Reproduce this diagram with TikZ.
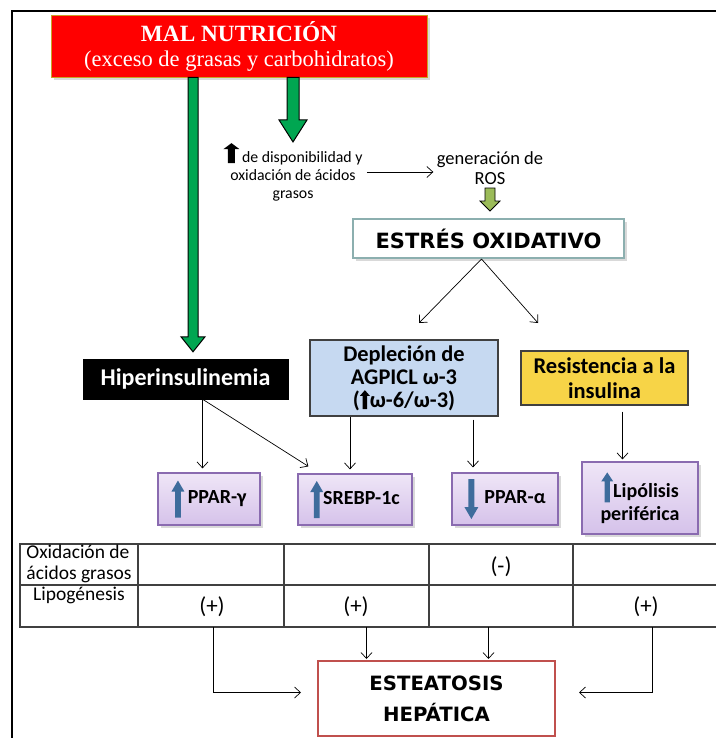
\documentclass[tikz,border=0pt]{standalone}
\usepackage{fontspec}
\setmainfont{Carlito}
\newfontfamily\titlefont{Liberation Serif}
\newfontfamily\capsfont{DejaVu Sans}
\usepackage{tikz}
\usetikzlibrary{calc,positioning,arrows.meta,shadows}

\definecolor{malred}{HTML}{FF0000}
\definecolor{malline}{HTML}{C9A227}
\definecolor{arrowgreen}{HTML}{00A651}
\definecolor{olivearrow}{HTML}{9BBB59}
\definecolor{estline}{HTML}{8CAFAF}
\definecolor{deplfill}{HTML}{C6D9F1}
\definecolor{resfill}{HTML}{F7D447}
\definecolor{boxline}{HTML}{404040}
\definecolor{lilactop}{HTML}{EFE6F7}
\definecolor{lilacbot}{HTML}{D5C2EA}
\definecolor{lilacline}{HTML}{8A6BB0}
\definecolor{arrowblue}{HTML}{3E6C9C}
\definecolor{hepline}{HTML}{C0504D}

\tikzset{
  line/.style={-{Straight Barb[length=6pt,width=11pt]}, line width=0.7pt},
  box/.style={draw, align=center, inner sep=3pt},
  shadowbox/.style={box, drop shadow={shadow xshift=3pt, shadow yshift=-3pt, opacity=0.3}},
  lilacbox/.style={shadowbox, draw=lilacline, line width=1.2pt, top color=lilactop, bottom color=lilacbot, font=\bfseries\fontsize{20}{23}\selectfont},
  bigarrow/.style={draw=black, line width=1pt},
  tablerule/.style={draw=boxline, line width=1.4pt},
  celltext/.style={font=\fontsize{19.5}{21}\selectfont, align=center, inner sep=0pt},
  signtext/.style={font=\fontsize{23}{25}\selectfont, inner sep=0pt}
}

% block arrows drawn between two points (x taken from the first one)
\newcommand{\blockarrow}[6]{%
  \filldraw[#1] let \p1=(#2), \p2=(#3) in
    (\x1-#4,\y1) -- (\x1-#4,\y2+#6) -- (\x1-#5,\y2+#6) -- (\x1,\y2)
    -- (\x1+#5,\y2+#6) -- (\x1+#4,\y2+#6) -- (\x1+#4,\y1) -- cycle;}
\newcommand{\blkup}[4]{\tikz[baseline=#4pt,x=1pt,y=1pt]\fill[#1] (-0.22*#2,0) -- (-0.22*#2,0.7*#3) -- (-0.5*#2,0.7*#3) -- (0,#3) -- (0.5*#2,0.7*#3) -- (0.22*#2,0.7*#3) -- (0.22*#2,0) -- cycle;}
\newcommand{\blkdown}[4]{\tikz[baseline=#4pt,x=1pt,y=1pt]\fill[#1] (-0.22*#2,#3) -- (-0.22*#2,0.3*#3) -- (-0.5*#2,0.3*#3) -- (0,0) -- (0.5*#2,0.3*#3) -- (0.22*#2,0.3*#3) -- (0.22*#2,#3) -- cycle;}

\begin{document}
\begin{tikzpicture}[x=1pt, y=-1pt, node distance=10pt]
  \useasboundingbox (0,0) rectangle (715,738);
  \draw[line width=1.6pt] (716,11) -- (12,11) -- (12,739);

  \node[shadowbox, fill=malred, draw=malline, line width=0.8pt, minimum width=376pt, minimum height=62pt, text=white, font=\titlefont\fontsize{22.5}{25}\selectfont] (malnut) at (239,46) {{\bfseries\fontsize{23.3}{25}\selectfont MAL NUTRICIÓN}\\(exceso de grasas y carbohidratos)};
  \node[align=center, inner sep=1pt, font=\fontsize{15.8}{18}\selectfont] (disp) at (293,172) {\blkup{black}{16}{20}{1}\,de disponibilidad y\\oxidación de ácidos\\grasos};
  \node[align=center, font=\fontsize{18.5}{20}\selectfont] (ros) at (490,168) {generación de\\ROS};
  \node[shadowbox, draw=estline, line width=2pt, fill=white, minimum width=271pt, minimum height=39pt, font=\capsfont\bfseries\fontsize{21}{23}\selectfont] (estres) at (488.5,238.5) {ESTRÉS OXIDATIVO};
  \node[box, fill=black, text=white, minimum width=205pt, minimum height=40pt, font=\bfseries\fontsize{24}{26}\selectfont] (hiper) at (185.5,379) {Hiperinsulinemia};
  \node[box, draw=boxline, line width=1.2pt, fill=deplfill, minimum width=188pt, minimum height=76pt, font=\bfseries\fontsize{22.4}{23}\selectfont] (depl) at (404,378) {Depleción de\\AGPICL ω-3\\(\blkup{black}{10}{19}{2}ω-6/ω-3)};
  \node[box, draw=boxline, line width=1.2pt, fill=resfill, minimum width=167pt, minimum height=54pt, font=\bfseries\fontsize{22.5}{25}\selectfont] (resis) at (604.5,378) {Resistencia a la\\insulina};

  \node[lilacbox, minimum width=102pt, minimum height=52pt] (pparg) at (209,499) {\blkup{arrowblue}{13}{37}{14}\,PPAR-γ};
  \node[lilacbox, minimum width=114pt, minimum height=51pt] (srebp) at (355,499.5) {\blkup{arrowblue}{13}{37}{14}SREBP-1c};
  \node[lilacbox, minimum width=106pt, minimum height=52pt] (pparA) at (505,499) {\blkdown{arrowblue}{14}{40}{16}\hspace{6pt}PPAR-α};
  \node[lilacbox, minimum width=116pt, minimum height=72pt] (lipol) at (640,498) {\blkup{arrowblue}{12}{30}{5}Lipólisis\\periférica};

  \draw[tablerule] (719,544) -- (20,544) -- (20,627) -- (719,627);
  \draw[tablerule] (20,585) -- (719,585);
  \foreach \cx in {138,284,429,573}
    \draw[tablerule] (\cx,544) -- (\cx,627);
  \node[celltext, align=left] (oxlbl) at (79,564) {Oxidación de\\ácidos grasos};
  \node[celltext] (lipolbl) at (79,595) {Lipogénesis};
  \node[signtext] (minusD) at (501,567) {(-)};
  \node[signtext] (plusA) at (212,607) {(+)};
  \node[signtext] (plusB) at (356,607) {(+)};
  \node[signtext] (plusC) at (646,607) {(+)};

  \node[box, draw=hepline, line width=2pt, fill=white, minimum width=237pt, minimum height=75pt, font=\capsfont\bfseries\fontsize{19.7}{31}\selectfont] (hepat) at (436.5,698.5) {ESTEATOSIS\\HEPÁTICA};

  \coordinate (gA) at (193,0);
  \blockarrow{bigarrow, fill=arrowgreen}{malnut.south -| gA}{[yshift=7pt]hiper.north}{5pt}{12pt}{15pt}
  \blockarrow{bigarrow, fill=arrowgreen}{malnut.south -| disp.north}{disp.north}{6pt}{14pt}{22pt}
  \blockarrow{bigarrow, line width=0.8pt, fill=olivearrow}{ros.south}{[yshift=7pt]estres.north}{5pt}{10pt}{10pt}

  \draw[line] ([xshift=3pt]disp.east) -- (disp.east -| ros.west);
  \coordinate (splitL) at (419,323);
  \coordinate (splitR) at (538,323);
  \draw[line] ([xshift=-7pt]estres.south) -- (splitL);
  \draw[line] ([xshift=-7pt]estres.south) -- (splitR);

  \coordinate (hipOut) at ([xshift=17pt]hiper.south);
  \draw[line, shorten >=4pt] (hipOut) -- (hipOut |- pparg.north);
  \draw[line] (hipOut) -- ($(srebp.north west)+(11,-7)$);
  \coordinate (srebpIn) at ([xshift=-5pt]srebp.north);
  \draw[line, shorten >=4pt] (srebpIn |- depl.south) -- (srebpIn);
  \coordinate (alphaIn) at ([xshift=-32pt]pparA.north);
  \draw[line, shorten <=3pt, shorten >=5pt] (alphaIn |- depl.south) -- (alphaIn);
  \coordinate (resOut) at ([xshift=18pt]resis.south);
  \draw[line, shorten <=6pt, shorten >=2pt] (resOut) -- (resOut |- lipol.north);

  \coordinate (outL) at (213,627);
  \coordinate (outR) at (652,627);
  \coordinate (inL) at ([xshift=-70pt]hepat.north);
  \coordinate (inR) at ([xshift=52pt]hepat.north);
  \draw[line] (outL) |- ([xshift=-16pt, yshift=6pt]hepat.west);
  \draw[line] (outR) |- ([xshift=23pt, yshift=6pt]hepat.east);
  \draw[line, shorten >=1pt] (inL |- outL) -- (inL);
  \draw[line, shorten >=1pt] (inR |- outL) -- (inR);
\end{tikzpicture}
\end{document}
